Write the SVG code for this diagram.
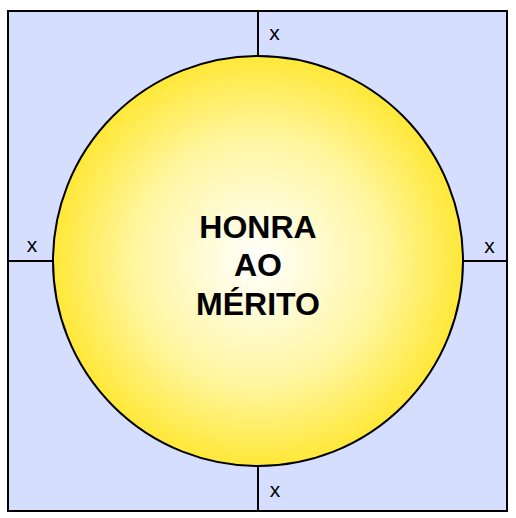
<svg xmlns="http://www.w3.org/2000/svg" width="516" height="518" viewBox="0 0 516 518">
<defs>
<radialGradient id="sun" cx="50%" cy="50%" r="50%">
<stop offset="0" stop-color="#FFFFFF"/>
<stop offset="0.6" stop-color="#FFF6A0"/>
<stop offset="1" stop-color="#FFE838"/>
</radialGradient>
<style>
.ln{stroke:#000;stroke-width:2;fill:none}
.lbl{font-family:"Liberation Sans",Arial,sans-serif;font-size:21px;fill:#000;text-anchor:middle}
.title{font-family:"Liberation Sans",Arial,sans-serif;font-size:32px;font-weight:bold;fill:#000;text-anchor:middle}
</style>
</defs>
<g id="frame">
<rect x="8" y="11" width="499" height="500" fill="#D5DEFE" stroke="#000" stroke-width="2"/>
</g>
<g id="connectors">
<line class="ln" x1="258" y1="11" x2="258" y2="56"/>
<line class="ln" x1="258" y1="466" x2="258" y2="511"/>
<line class="ln" x1="8" y1="261" x2="53" y2="261"/>
<line class="ln" x1="463" y1="261" x2="507" y2="261"/>
</g>
<g id="circle">
<circle cx="258" cy="261" r="205" fill="url(#sun)" stroke="#000" stroke-width="2"/>
<text class="title" x="258" y="238">HONRA</text>
<text class="title" x="258" y="276">AO</text>
<text class="title" x="258" y="315">MÉRITO</text>
</g>
<g id="labels">
<text class="lbl" x="274.5" y="40">x</text>
<text class="lbl" x="32" y="252">x</text>
<text class="lbl" x="489.5" y="253">x</text>
<text class="lbl" x="275" y="497">x</text>
</g>
</svg>
